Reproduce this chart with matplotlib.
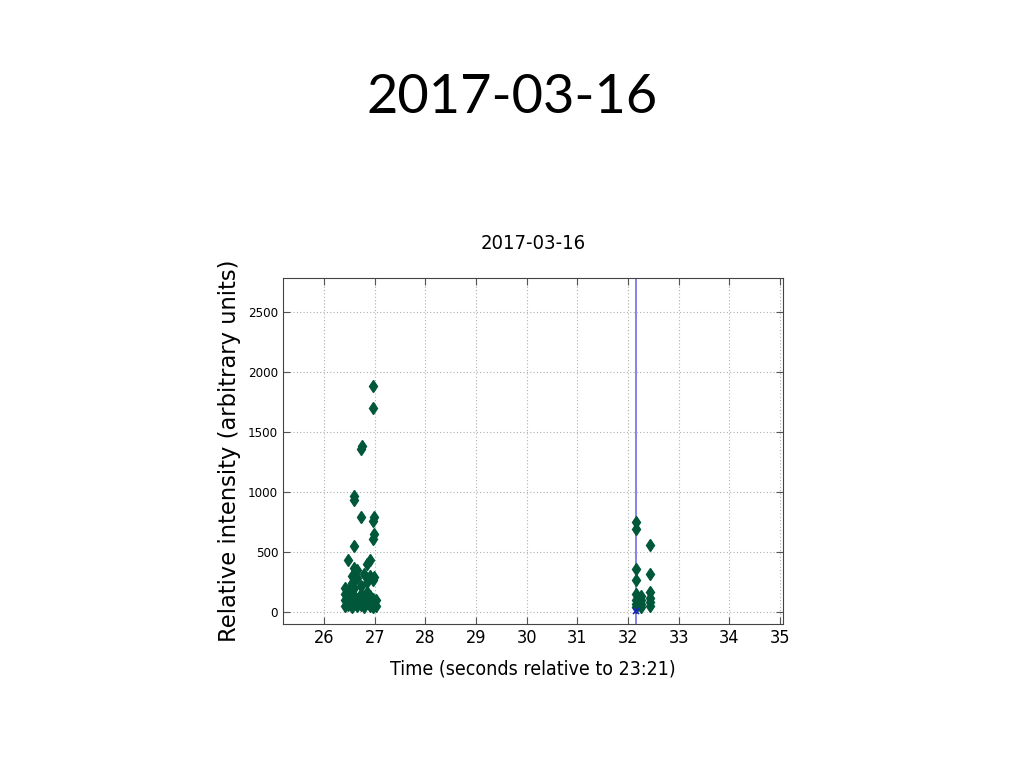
import matplotlib
matplotlib.use("Agg")
import matplotlib.pyplot as plt

# detections, first burst (~26.4 - 27.0 s)
burst1_t = [26.42, 26.42, 26.42, 26.42,
            26.47, 26.47, 26.47, 26.47,
            26.55, 26.55, 26.55, 26.55, 26.55,
            26.60, 26.60, 26.60, 26.60, 26.60, 26.60, 26.60,
            26.65, 26.65, 26.65, 26.65,
            26.73, 26.73, 26.73, 26.73, 26.74, 26.73,
            26.78, 26.78, 26.78,
            26.85, 26.85, 26.85, 26.85,
            26.90, 26.90, 26.90, 26.90,
            26.97, 26.97, 26.97, 26.98, 26.97, 26.98, 26.97, 26.98, 26.97, 26.97,
            27.02, 27.02]
burst1_i = [50, 100, 150, 200,
            60, 120, 180, 430,
            40, 90, 160, 240, 300,
            70, 130, 200, 370, 550, 930, 970,
            50, 110, 280, 350,
            60, 150, 220, 1360, 1380, 790,
            40, 100, 320,
            80, 170, 250, 400,
            50, 130, 300, 430,
            40, 110, 270, 290, 610, 650, 760, 790, 1700, 1881,
            50, 100]

# detections, second burst (~32.2 - 32.4 s)
burst2_t = [32.16, 32.16, 32.16, 32.16, 32.16, 32.16, 32.16, 32.16,
            32.25, 32.25, 32.25, 32.25,
            32.44, 32.44, 32.44, 32.44, 32.44, 32.44]
burst2_i = [40, 70, 100, 150, 270, 360, 690, 750,
            40, 70, 100, 130,
            50, 80, 120, 170, 320, 560]

trigger_t = 32.16
trigger_i = 10

cond = dict(family="DejaVu Sans", stretch="condensed")

fig = plt.figure(figsize=(10.24, 7.68), dpi=100)
fig.text(0.5, 0.873, "2017-03-16", ha="center", va="center",
         fontsize=39, family="Lato")

ax = fig.add_axes([0.2764, 0.1875, 0.4883, 0.4505])
ax.axvline(trigger_t, color="#6f6fe8", lw=1.2, zorder=1)
ax.plot(burst1_t + burst2_t, burst1_i + burst2_i, "d", color="#00573a",
        ms=6.5, mec="#00573a", zorder=3)
ax.plot([trigger_t], [trigger_i], "x", color="#2020d0", ms=5, mew=1.2, zorder=4)

ax.set_xlim(25.19, 35.06)
ax.set_ylim(-100, 2783)
ax.set_xticks(range(26, 36))
ax.set_yticks([0, 500, 1000, 1500, 2000, 2500])
ax.grid(True, color="#b0b0b0", linestyle=(0, (1, 2)), lw=0.8)
ax.tick_params(direction="in", top=True, right=True, length=5, color="#555555")
for lbl in ax.get_xticklabels():
    lbl.update(cond)
    lbl.set_fontsize(13)
for lbl in ax.get_yticklabels():
    lbl.update(cond)
    lbl.set_fontsize(9.5)
for s in ax.spines.values():
    s.set_color("#444444")

ax.set_title("2017-03-16", fontsize=14.5, pad=21, **cond)
ax.set_xlabel("Time (seconds relative to 23:21)", fontsize=14, labelpad=9, **cond)
ax.set_ylabel("Relative intensity (arbitrary units)", family="DejaVu Sans",
              fontsize=16.3, labelpad=5)

fig.savefig("out.png", dpi=100)
